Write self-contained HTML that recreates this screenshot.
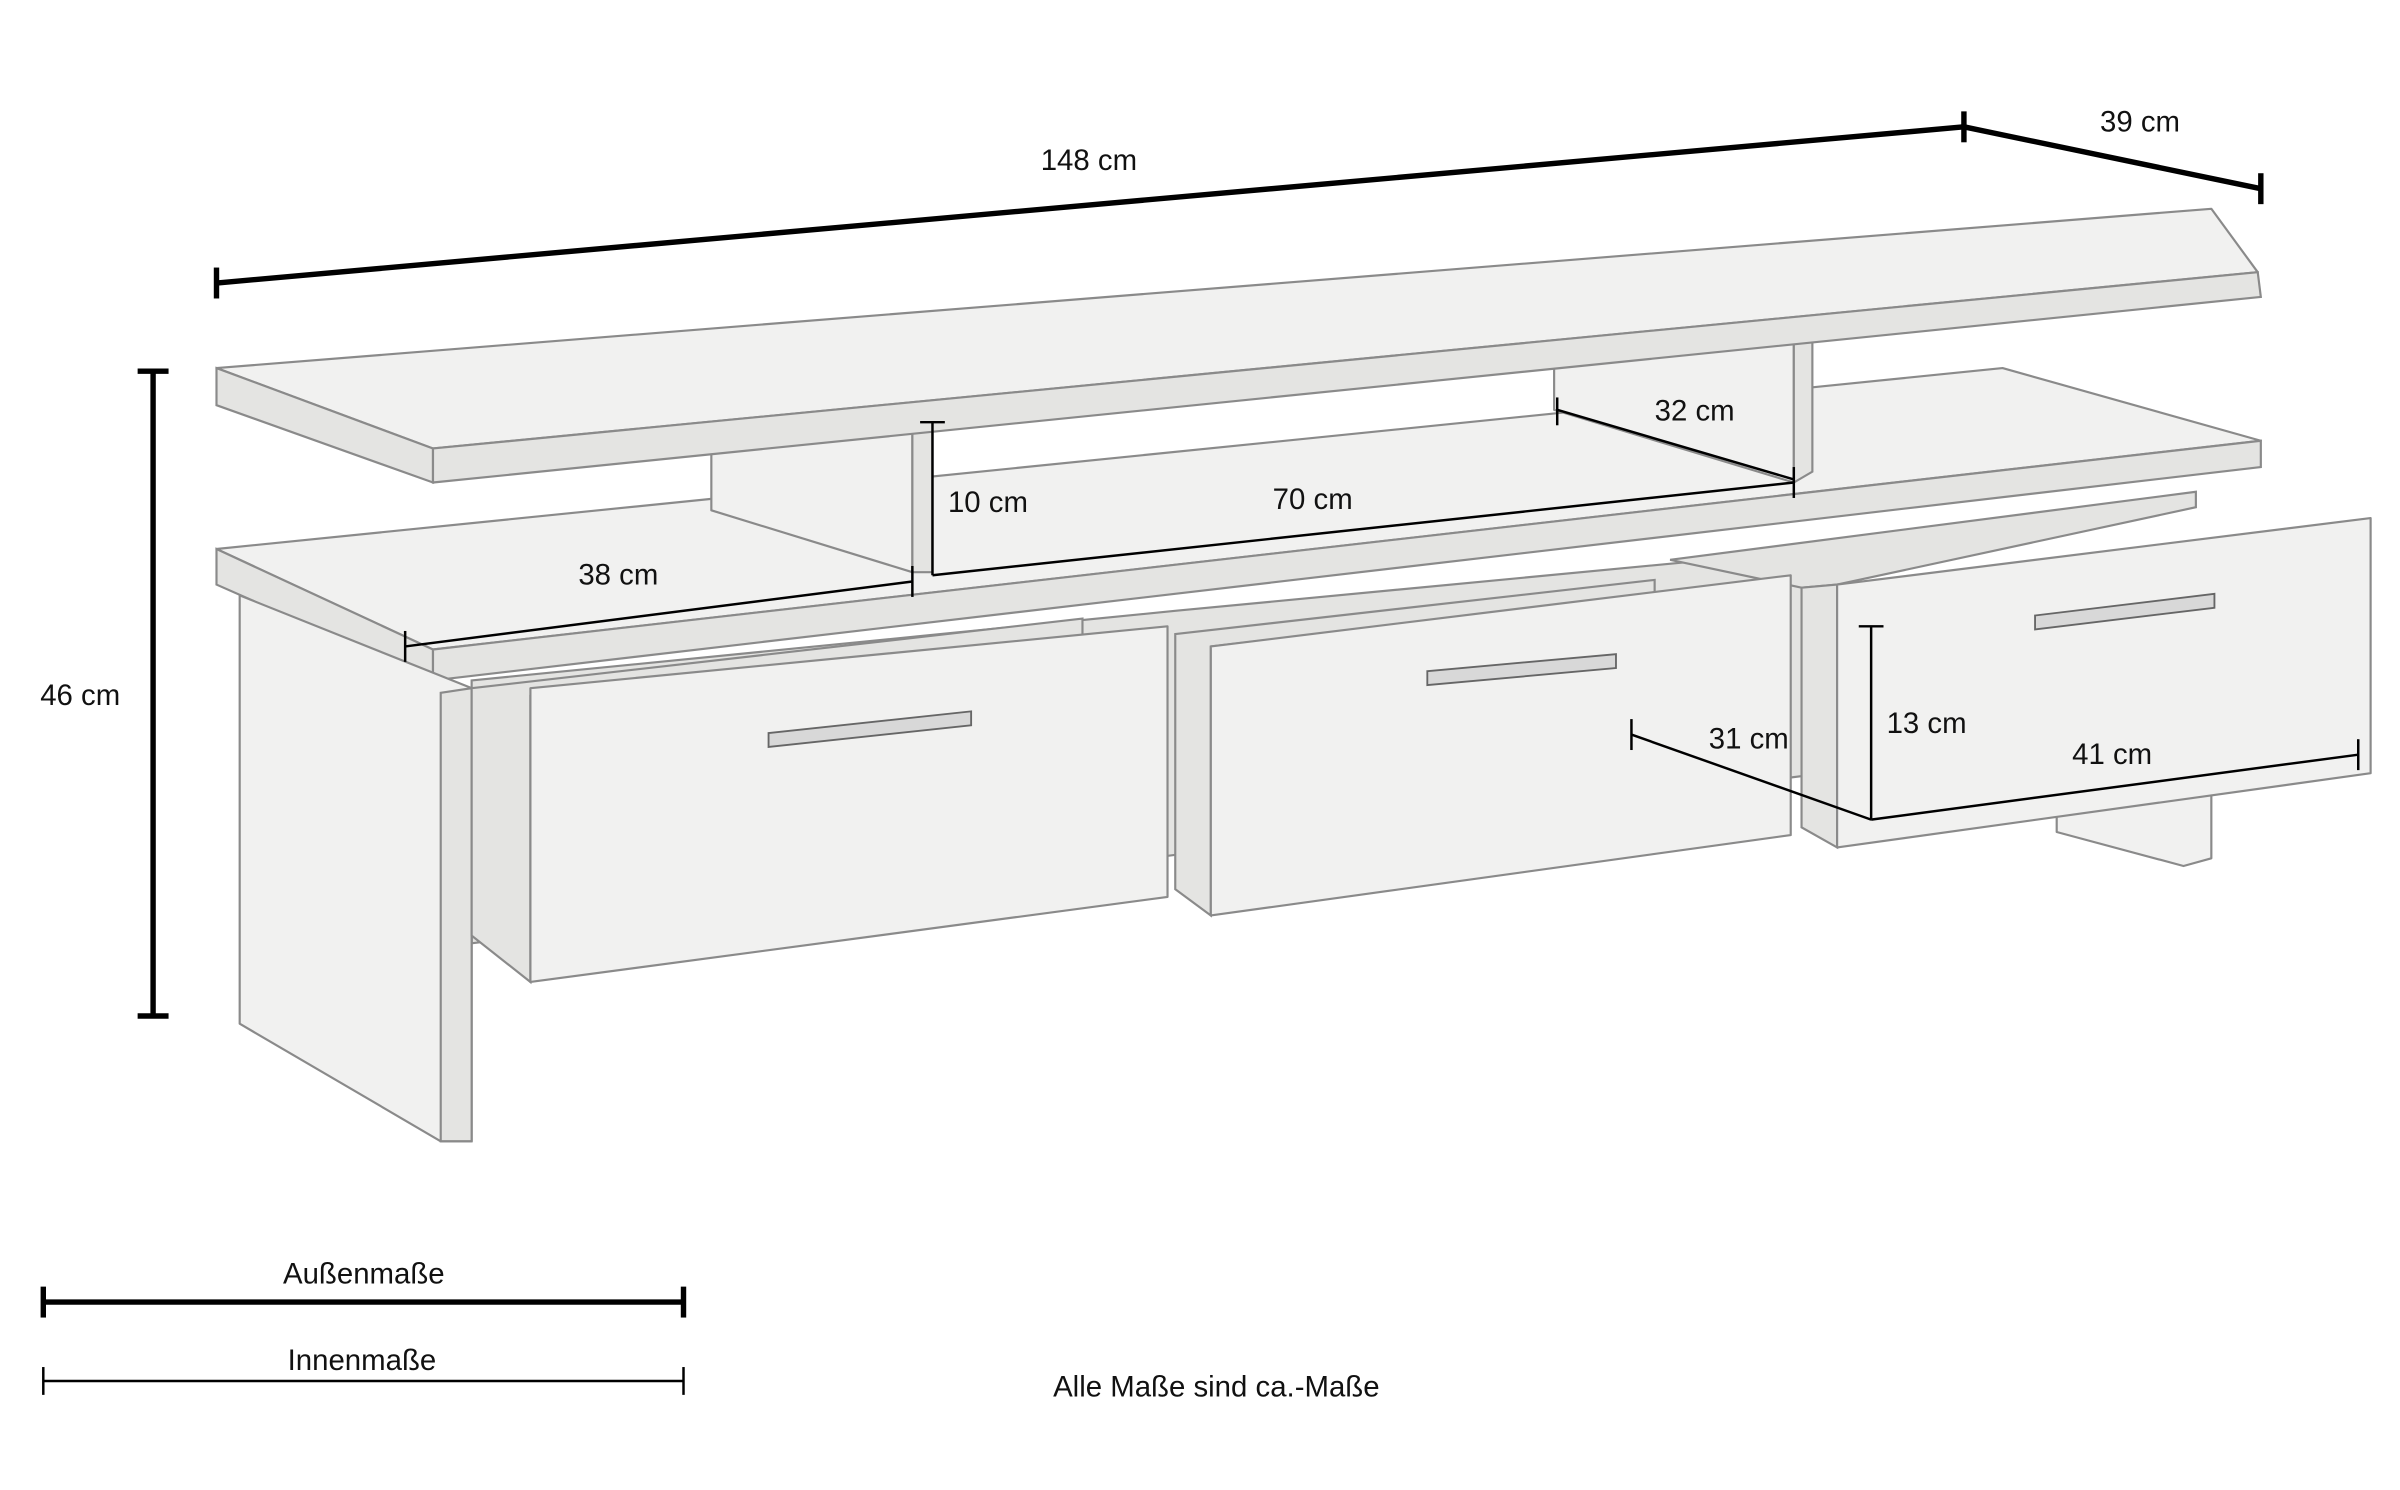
<!DOCTYPE html>
<html><head><meta charset="utf-8"><style>
html,body{margin:0;padding:0;background:#fff;}
svg{display:block;}
text{font-family:"Liberation Sans",sans-serif;font-size:19px;fill:#111;}
.w{fill:#f1f1f0;stroke:#8a8a8a;stroke-width:1.4;stroke-linejoin:round;}
.d{fill:#e4e4e2;stroke:#8a8a8a;stroke-width:1.4;}
.k{stroke:#000;stroke-width:3.5;fill:none;}
.t{stroke:#000;stroke-width:1.6;fill:none;}
.h{fill:#d8d8d8;stroke:#666;stroke-width:1.2;}
</style></head><body>
<svg width="2400" height="1490" viewBox="0 0 1552 963.5" xmlns="http://www.w3.org/2000/svg">
<!-- right leg -->
<polygon class="w" points="1330,520 1430,505 1430,555 1412,560 1330,538"/>
<!-- middle shelf -->
<polygon class="w" points="140,355 1295,238 1462,285 280,420"/>
<polygon class="d" points="140,355 280,420 280,440 140,378"/>
<polygon class="d" points="280,420 1462,285 1462,302 280,440"/>
<!-- inner cavity -->
<polygon class="d" points="305,440 760,395 1180,355 1180,500 305,610"/>
<!-- left leg -->
<polygon class="w" points="155,385 305,445 305,738 285,738 155,662"/>
<polygon class="d" points="285,448 305,445 305,738 285,738"/>
<!-- support blocks -->
<polygon class="w" points="460,292 590,280 590,370 460,330"/>
<polygon class="d" points="590,280 603,278 603,370 590,370"/>
<polygon class="w" points="1005,225 1160,212 1160,312 1005,265"/>
<polygon class="d" points="1160,212 1172,211 1172,305 1160,312"/>
<!-- top board -->
<polygon class="w" points="140,238 1430,135 1460,176 280,290"/>
<polygon class="d" points="140,238 280,290 280,312 140,262"/>
<polygon class="d" points="280,290 1460,176 1462,192 280,312"/>
<!-- drawer sides -->
<polygon class="d" points="305,445 700,400 700,420 343,450 343,635 305,605"/>
<polygon class="d" points="760,410 1070,375 1070,385 783,418 783,592 760,575"/>
<polygon class="d" points="1080,362 1420,318 1420,328 1188,378 1165,380"/>
<polygon class="d" points="1165,380 1188,378 1188,548 1165,535"/>
<!-- drawer fronts -->
<polygon class="w" points="343,445 755,405 755,580 343,635"/>
<polygon class="w" points="783,418 1158,372 1158,540 783,592"/>
<polygon class="w" points="1188,378 1533,335 1533,500 1188,548"/>
<!-- handles -->
<polygon class="h" points="497,474 628,460 628,469 497,483"/>
<polygon class="h" points="923,434 1045,423 1045,432 923,443"/>
<polygon class="h" points="1316,398 1432,384 1432,393 1316,407"/>
<!-- dimensions -->
<line class="k" x1="140" y1="183" x2="1270" y2="82"/>
<line class="k" x1="140" y1="173" x2="140" y2="193"/>
<line class="k" x1="1270" y1="72" x2="1270" y2="92"/>
<line class="k" x1="1270" y1="82" x2="1462" y2="122"/>
<line class="k" x1="1462" y1="112" x2="1462" y2="132"/>
<text x="673" y="110">148 cm</text>
<text x="1358" y="85">39 cm</text>
<line class="k" x1="99" y1="240" x2="99" y2="657"/>
<line class="k" x1="89" y1="240" x2="109" y2="240"/>
<line class="k" x1="89" y1="657" x2="109" y2="657"/>
<text x="26" y="456">46 cm</text>
<line class="t" x1="262" y1="418" x2="590" y2="376"/>
<line class="t" x1="262" y1="408" x2="262" y2="428"/>
<line class="t" x1="590" y1="366" x2="590" y2="386"/>
<text x="374" y="378">38 cm</text>
<line class="t" x1="603" y1="273" x2="603" y2="372"/>
<line class="t" x1="595" y1="273" x2="611" y2="273"/>
<text x="613" y="331">10 cm</text>
<line class="t" x1="603" y1="372" x2="1160" y2="312"/>
<line class="t" x1="1160" y1="302" x2="1160" y2="322"/>
<text x="823" y="329">70 cm</text>
<line class="t" x1="1007" y1="265" x2="1160" y2="310"/>
<line class="t" x1="1007" y1="257" x2="1007" y2="275"/>
<text x="1070" y="272">32 cm</text>
<line class="t" x1="1210" y1="405" x2="1210" y2="530"/>
<line class="t" x1="1202" y1="405" x2="1218" y2="405"/>
<text x="1220" y="474">13 cm</text>
<line class="t" x1="1210" y1="530" x2="1525" y2="488"/>
<line class="t" x1="1525" y1="478" x2="1525" y2="498"/>
<text x="1340" y="494">41 cm</text>
<line class="t" x1="1055" y1="475" x2="1210" y2="530"/>
<line class="t" x1="1055" y1="465" x2="1055" y2="485"/>
<text x="1105" y="484">31 cm</text>
<!-- legend -->
<line class="k" x1="28" y1="842" x2="442" y2="842"/>
<line class="k" x1="28" y1="832" x2="28" y2="852"/>
<line class="k" x1="442" y1="832" x2="442" y2="852"/>
<text x="183" y="830">Außenmaße</text>
<line class="t" x1="28" y1="893" x2="442" y2="893"/>
<line class="t" x1="28" y1="884" x2="28" y2="902"/>
<line class="t" x1="442" y1="884" x2="442" y2="902"/>
<text x="186" y="886">Innenmaße</text>
<text x="681" y="903">Alle Maße sind ca.-Maße</text>
</svg>
</body></html>
